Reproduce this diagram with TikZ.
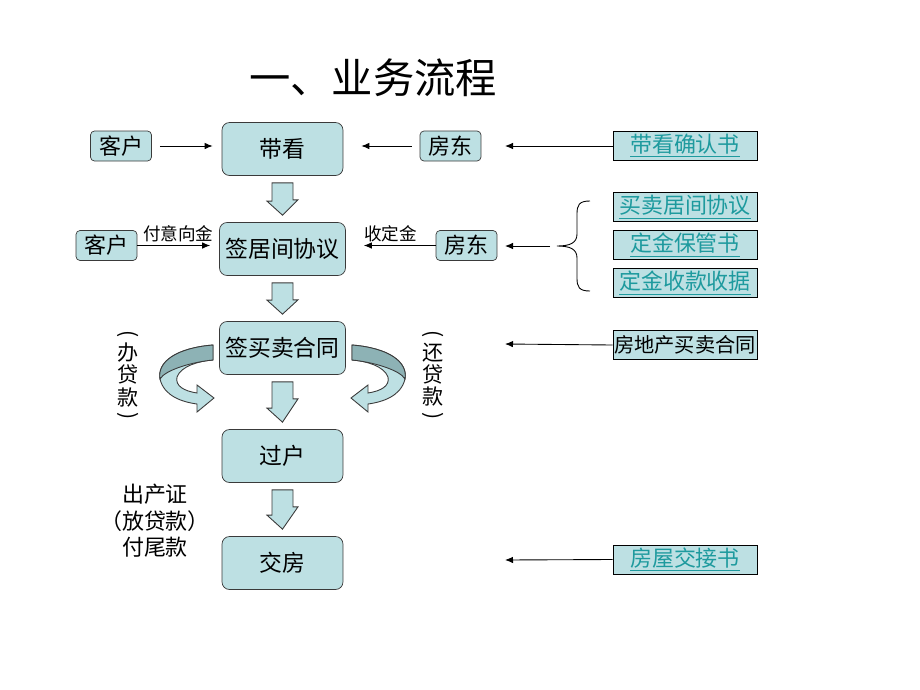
\documentclass[tikz,border=0pt]{standalone}
\usepackage{fontspec}
\setmainfont{Noto Sans CJK SC}
\usetikzlibrary{positioning,arrows.meta}

\definecolor{boxfill}{HTML}{BDE0E3}
\definecolor{boxdark}{HTML}{8DB2B5}
\definecolor{linkteal}{HTML}{1E9A9E}
\definecolor{edgegray}{HTML}{3A3A3A}

\newcommand\doclink[1]{\textcolor{linkteal}{\underline{#1}}}
% bent ribbon arrow of the loan steps
\newcommand\bentarrow{%
  \draw[edgegray, fill=boxfill, line width=0.5pt]
    (213,345) .. controls (176,348) and (157,362) .. (160,379)
    .. controls (164,396) and (182,402) .. (197,404)
    -- (197,412) -- (214,398) -- (197,385) -- (197,393)
    .. controls (184,391) and (175,386) .. (177,377)
    .. controls (181,366) and (199,361) .. (213,360) -- cycle;
  \draw[edgegray, fill=boxdark, line width=0.5pt]
    (213,345) .. controls (176,348) and (157,362) .. (160,379)
    .. controls (165,370) and (192,362) .. (213,360) -- cycle;}

\begin{document}
\begin{tikzpicture}[x=0.02cm, y=-0.02cm,
    stepbox/.style={draw=edgegray, fill=boxfill, rounded corners=0.15cm,
      minimum width=2.42cm, minimum height=1.06cm, font=\fontsize{13}{15}\selectfont},
    partybox/.style={draw=edgegray, fill=boxfill, rounded corners=0.08cm,
      minimum width=1.22cm, minimum height=0.6cm, inner sep=0pt, font=\fontsize{12.5}{15}\selectfont},
    docbox/.style={draw=black, fill=boxfill, minimum width=2.88cm,
      minimum height=0.58cm, inner sep=0pt, font=\fontsize{12.5}{15}\selectfont},
    arr/.style={-{Latex[length=0.16cm,width=0.13cm]}, line width=0.5pt},
    blockarr/.style={draw=edgegray, fill=boxfill, line width=0.5pt},
    note/.style={font=\fontsize{10}{12}\selectfont, inner sep=1pt},
    vtext/.style={align=center, inner sep=0pt, font=\fontsize{12}{12.6}\selectfont},
    vparen/.style={rotate=-90, inner sep=0pt, font=\fontsize{12}{12.6}\selectfont}]

  \useasboundingbox (0,0) rectangle (920,690);

  \node (title) at (373,78) {\fontsize{23.5}{28}\selectfont 一、业务流程};

  % main steps
  \node[stepbox] (kan)  at (282.5,149) {带看};
  \node[stepbox] (juj)  at (282.5,249) {签居间协议};
  \node[stepbox] (mai)  at (282.5,348) {签买卖合同};
  \node[stepbox] (guo)  at (282.5,456) {过户};
  \node[stepbox] (jiao) at (282.5,563) {交房};

  % parties
  \node[partybox] (kh1) at (121,146)   {客户};
  \node[partybox] (fd1) at (450.5,146) {房东};
  \node[partybox] (kh2) at (106.5,245.5) {客户};
  \node[partybox] (fd2) at (466.5,245.5) {房东};

  % documents
  \node[docbox] (doc1) at (685,145.5) {\doclink{带看确认书}};
  \node[docbox] (doc2) at (685,207)   {\doclink{买卖居间协议}};
  \node[docbox] (doc3) at (685,245)   {\doclink{定金保管书}};
  \node[docbox] (doc4) at (685,283)   {\doclink{定金收款收据}};
  \node[docbox, font=\fontsize{11.5}{14}\selectfont] (doc5) at (685,345) {房地产买卖合同};
  \node[docbox] (doc6) at (685,559.5) {\doclink{房屋交接书}};

  \coordinate (e1) at (505,146);
  \coordinate (e2) at (505,246);
  \coordinate (e3) at (505,344);
  \coordinate (e4) at (505,560);
  \coordinate (bt) at (557,246);

  % connectors
  \draw[arr, shorten <=0.16cm, shorten >=0.18cm] (kh1.east) -- (kh1.east -| kan.west);
  \draw[arr, shorten <=0.16cm, shorten >=0.36cm] (fd1.west) -- (fd1.west -| kan.east);
  \draw[arr, shorten >=0.18cm] (kh2.east) -- (kh2.east -| juj.west)
    node[note, midway, above=0.02cm] {付意向金};
  \draw[arr, shorten >=0.36cm] (fd2.west) -- (fd2.west -| juj.east)
    node[note, midway, above=0.02cm] {收定金};
  \draw[arr] (doc1.west |- e1) -- (e1);
  \draw[arr, shorten <=0.14cm] (bt) -- (e2);
  \draw[arr] (doc5.west) -- (e3);
  \draw[arr] (doc6.west) -- (e4);

  % brace of the three documents
  \draw[line width=0.5pt] (590,201) .. controls (579,201) and (577,205) .. (577,214)
    -- (577,234) .. controls (577,243) and (570,246) .. (bt)
    .. controls (570,246) and (577,249) .. (577,258)
    -- (577,278) .. controls (577,287) and (579,291) .. (590,291);

  % block arrows between steps
  \foreach \top/\nxt in {kan/juj, juj/mai, mai/guo, guo/jiao} {
    \draw[blockarr] ([xshift=-0.21cm, yshift=-0.14cm]\top.south)
      -- ++(21,0) -- ++(0,17) -- ++(5,0) -- ([yshift=0.14cm]\nxt.north)
      -- ++(-15.5,-14) -- ++(5,0) -- cycle;
  }

  % loan ribbons
  \bentarrow
  \begin{scope}[shift={(565,0)}, xscale=-1]
    \bentarrow
  \end{scope}

  \node[vtext] (banli) at (128,375) {办\\贷\\款};
  \node[vparen] (banlo) at (128,334) {(};
  \node[vparen] (banlc) at (128,416) {)};
  \node[vtext] (huan)  at (433,375) {还\\贷\\款};
  \node[vparen] (huano) at (433,334) {(};
  \node[vparen] (huanc) at (433,416) {)};

  \node[align=center, inner sep=0pt, font=\fontsize{12.5}{15}\selectfont] (chan) at (155,521)
    {出产证\\\kern-2pt（放贷款）\kern-2pt\\付尾款};

\end{tikzpicture}
\end{document}
